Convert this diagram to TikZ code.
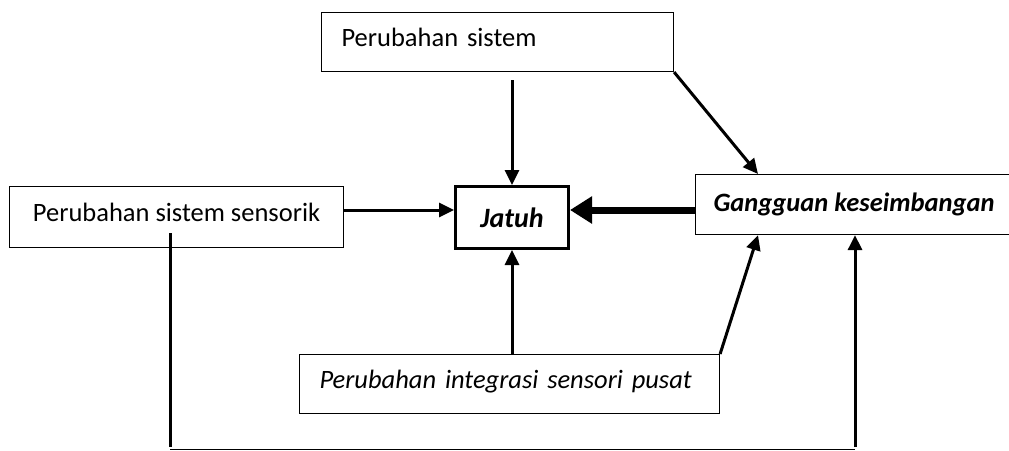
\documentclass[tikz,border=0pt]{standalone}
\usepackage{fontspec}
\setmainfont{Carlito}
\usetikzlibrary{positioning, arrows.meta, calc}

\begin{document}
\begin{tikzpicture}[x=1pt, y=-1pt,
    box/.style={draw, rectangle, line width=1.1pt, anchor=north west, inner xsep=20pt, inner ysep=0pt, font=\fontsize{26.5}{31}\selectfont},
    raised/.style={text height=18pt, text depth=10pt},
    leftbox/.style={box, raised, align=left},
    mainbox/.style={box, line width=3pt, font=\fontsize{28}{32}\selectfont\bfseries\itshape},
    arrow/.style={-{Triangle[length=15pt, width=14pt]}, line width=3pt},
    bigarrow/.style={-{Triangle[length=22pt, width=26pt]}, line width=7pt},
    link/.style={line width=3pt}
]
\useasboundingbox (0,0) rectangle (1009,450);

% boxes
\node[leftbox, text width=312pt, minimum height=59pt] (sistem) at (321,12) {Perubahan sistem};
\node[box, raised, inner xsep=0pt, minimum width=334pt, minimum height=61pt] (sensorik) at (9,186) {Perubahan sistem sensorik};
\node[mainbox, inner xsep=0pt, minimum width=113pt, minimum height=62pt] (jatuh) at (454,185) {Jatuh};
\node[box, font=\fontsize{26.5}{31}\selectfont\bfseries\itshape, inner xsep=0pt, minimum width=317pt, minimum height=60pt] (gangguan) at (695,174) {Gangguan keseimbangan};
\node[leftbox, font=\fontsize{26.5}{31}\selectfont\itshape, text width=380pt, minimum height=59pt] (integrasi) at (299,354) {Perubahan integrasi sensori pusat};

\coordinate (lvl) at (0,210);
\coordinate (fbl) at (170,447);
\coordinate (fbr) at (855,447);

% arrows into Jatuh
\draw[arrow] ([yshift=-8pt]jatuh.north |- sistem.south) -- (jatuh.north);
\draw[arrow] (sensorik.east |- lvl) -- (jatuh.west |- lvl);
\draw[bigarrow] (gangguan.west |- lvl) -- (jatuh.east |- lvl);
\draw[arrow] (integrasi.north -| jatuh.south) -- (jatuh.south);

% arrows into Gangguan keseimbangan
\draw[arrow] (sistem.south east) -- ([xshift=63pt]gangguan.north west);
\draw[arrow] (integrasi.north east) -- ([xshift=63pt]gangguan.south west);

% feedback line
\draw[link] (fbl |- {$(sensorik.south)+(0,15pt)$}) -- (fbl);
\draw[line width=1pt] ([yshift=-2pt]fbl) -- ([yshift=-2pt]fbr);
\draw[arrow] (fbr) -- (fbr |- gangguan.south);

\end{tikzpicture}
\end{document}
